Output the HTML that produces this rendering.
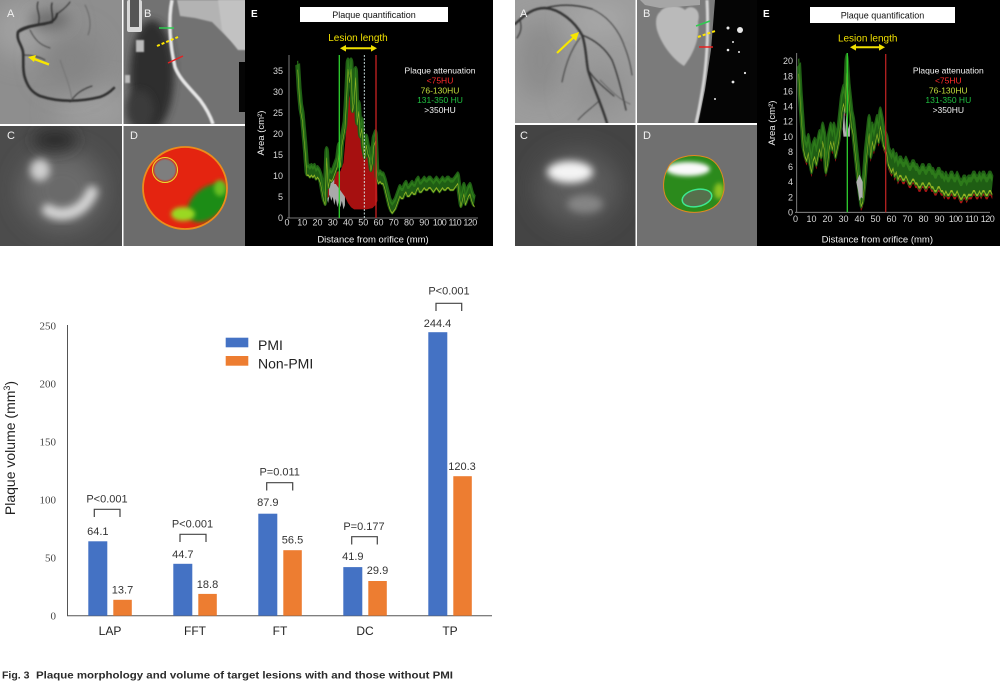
<!DOCTYPE html>
<html>
<head>
<meta charset="utf-8">
<style>
html,body{margin:0;padding:0;background:#fff;}
svg{display:block;}
text{font-family:"Liberation Sans",sans-serif;}
</style>
</head>
<body>
<svg width="1000" height="686" viewBox="0 0 1000 686" xmlns="http://www.w3.org/2000/svg">
<defs>
  <filter id="b1" x="-50%" y="-50%" width="200%" height="200%"><feGaussianBlur stdDeviation="0.8"/></filter>
  <filter id="b2" x="-50%" y="-50%" width="200%" height="200%"><feGaussianBlur stdDeviation="2"/></filter>
  <filter id="b4" x="-50%" y="-50%" width="200%" height="200%"><feGaussianBlur stdDeviation="4"/></filter>
  <filter id="b7" x="-50%" y="-50%" width="200%" height="200%"><feGaussianBlur stdDeviation="7"/></filter>
  <filter id="b12" x="-50%" y="-50%" width="200%" height="200%"><feGaussianBlur stdDeviation="12"/></filter>
  <clipPath id="cLA"><rect x="0" y="0" width="122" height="124"/></clipPath>
  <clipPath id="cLB"><rect x="123.5" y="0" width="121.5" height="124"/></clipPath>
  <clipPath id="cLC"><rect x="0" y="126" width="122" height="120"/></clipPath>
  <clipPath id="cLD"><rect x="123.5" y="126" width="121.5" height="120"/></clipPath>
  <clipPath id="cLDc"><ellipse cx="185" cy="188" rx="42" ry="41"/></clipPath>
  <clipPath id="cRA"><rect x="515" y="0" width="120.5" height="123"/></clipPath>
  <clipPath id="cRB"><rect x="637" y="0" width="120" height="123"/></clipPath>
  <clipPath id="cRC"><rect x="515" y="125" width="120.5" height="121"/></clipPath>
  <clipPath id="cRD"><rect x="637" y="125" width="120" height="121"/></clipPath>
  <clipPath id="cRDs"><path d="M668,168 C672,158 690,153 705,157 C718,160 725,175 724,190 C722,202 715,210 700,212 C685,214 670,208 665,195 C662,185 664,175 668,168 Z"/></clipPath>
  <clipPath id="cEL"><rect x="245" y="0" width="248" height="246"/></clipPath>
  <clipPath id="cER"><rect x="757" y="0" width="243" height="246"/></clipPath>
  <polyline id="envL" points="7,38 8,32 9,28 10,26 11,22 12,18 13,13 14,13 15,12.5 16,13 17,12.5 18,13 19,12 20,12.5 21,12 22,11 23,9 24,7 25,6 26,17 27,10 28,12 29,11.5 30,12 31,13 32,14 33,15 34,18 35,15 36,20 37,22 38,24 39,30 40,38 41,35 42,38 43,28 44,30 45,36 46,25 47,28 48,22 49,24 50,19 51,17 52,20 53,18 54,17 55,14 56,16 57,20 58,21 59,12 60,11 61,11.5 62,11 63,11 64,10 65,8.5 66,7 67,5.5 68,4.5 69,4 70,4.5 71,5 72,6 73,7 74,8 75,7.5 76,7.5 77,8.5 78,9 79,8 80,8 81,8.5 82,9 83,8.5 84,8.5 85,9.5 86,10 87,9 88,9 89,9.5 90,10 91,9.5 92,9.5 93,10 94,10 95,9.5 96,9 97,9.5 98,10 99,9.5 100,9 101,9.5 102,10 103,9.5 104,9.5 105,10 106,10 107,9.5 108,9.5 109,9.5 110,10 111,10.5 112,11 113,8 114,5.5 115,7 116,8.5 117,6 118,7 119,8 120,8.5 121,7 122,6 123,5.5"/>
  <polyline id="envR" points="2,21 3,17 4,14 5,11 6,10 7,9.5 8,10.5 9,9 10,8 11,9.5 12,10 13,9 14,10 15,11 16,10 17,12 18,11 19,8 20,9 21,11 22,12 23,11 24,12 25,10 26,11 27,12 28,14 29,16 30,17 31,16 32,21 33,18 34,16 35,14 36,13 37,11 38,9 39,7 40,5 41,3.5 42,4 43,6 44,9 45,11 46,13 47,10 48,12 49,11 50,12 51,13 52,12 53,14 54,13 55,11.5 56,11 57,10.5 58,9 59,8.5 60,8 61,8.5 62,7.5 63,8 64,7 65,7.5 66,7.5 67,7 68,7 69,7.5 70,7 71,6.5 72,6.5 73,7 74,7 75,6.5 76,6.5 77,6 78,6 79,6.5 80,6.5 81,6 82,6 83,6.5 84,6.5 85,6 86,6 87,5.5 88,5.5 89,6 90,6 91,5.5 92,5.5 93,5 94,5.5 95,5 96,5 97,5.5 98,5.5 99,5 100,5 101,5.5 102,5 103,4.5 104,4.5 105,5 106,5 107,4.5 108,5 109,5 110,5 111,5.5 112,5.5 113,5 114,5 115,5.5 116,5 117,5.5 118,5.5 119,5 120,5 121,5.5 122,5.5 123,5"/>
</defs>

<!-- ================= LEFT PANEL ================= -->
<!-- A -->
<g clip-path="url(#cLA)">
  <rect x="0" y="0" width="122" height="124" fill="#8e8e8e"/>
  <ellipse cx="30" cy="30" rx="40" ry="30" fill="#a0a0a0" filter="url(#b12)"/>
  <ellipse cx="95" cy="110" rx="40" ry="25" fill="#9c9c9c" filter="url(#b12)"/>
  <ellipse cx="70" cy="60" rx="30" ry="30" fill="#858585" filter="url(#b12)"/>
  <ellipse cx="50" cy="20" rx="20" ry="10" fill="#6a6a6a" filter="url(#b7)"/>
  <g fill="none" stroke="#2e2e2e" stroke-linecap="round" filter="url(#b1)">
    <path d="M52,22 C40,25 22,26 18,32 C16,40 22,45 23,52 C24,60 22,70 25,78 C28,88 33,93 40,96 C55,101 75,103 100,97 C106,95 110,92 114,88" stroke-width="2.6"/>
    <path d="M18,32 C25,28 35,25 45,24 C52,22 56,20 57,14" stroke-width="2.2"/>
    <path d="M52,22 C54,15 50,10 52,3" stroke-width="1.3"/>
    <path d="M38,25 C42,15 35,10 38,2" stroke-width="1.1"/>
    <path d="M57,14 C62,10 66,8 70,2" stroke-width="1.1"/>
    <path d="M23,55 C30,55 38,56 45,60" stroke-width="1"/>
    <path d="M70,102 C75,95 80,90 92,86" stroke-width="1"/>
    <path d="M30,30 C35,40 40,45 50,48" stroke-width="0.8"/>
    <path d="M85,5 C90,15 92,25 88,35" stroke-width="0.8" stroke="#5a5a5a"/>
    <path d="M60,60 C65,75 70,85 72,100" stroke-width="0.6" stroke="#666"/>
  </g>
  <line x1="49" y1="64.5" x2="33" y2="58.5" stroke="#f7e600" stroke-width="2.5"/>
  <polygon points="28,57 36,55 34,62" fill="#f7e600"/>
  <text x="7" y="17" font-size="11" fill="#f2f2f2">A</text>
</g>
<!-- B -->
<g clip-path="url(#cLB)">
  <rect x="123" y="0" width="122" height="124" fill="#727272"/>
  <path d="M177,0 L250,0 L250,50 L240,48 L228,38 L212,22 L195,18 L180,16 Z" fill="#b3b3b3" filter="url(#b1)"/>
  <path d="M218,0 L250,0 L250,50 L238,50 L222,30 Z" fill="#c2c2c2" filter="url(#b1)"/>
  <ellipse cx="152" cy="75" rx="22" ry="55" fill="#2f2f2f" filter="url(#b4)"/>
  <ellipse cx="140" cy="110" rx="14" ry="20" fill="#3a3a3a" filter="url(#b4)"/>
  <rect x="127" y="0" width="15" height="32" rx="2" fill="#d8d8d8"/>
  <rect x="130" y="0" width="9" height="27" fill="#555"/>
  <rect x="136" y="40" width="8" height="12" fill="#bbb" filter="url(#b1)"/>
  <rect x="125" y="75" width="5" height="8" fill="#bbb" filter="url(#b1)"/>
  <path d="M172,0 C168,20 170,45 175,67 C180,80 190,88 200,100 C206,108 210,115 213,124" fill="none" stroke="#e6e6e6" stroke-width="3.5" filter="url(#b1)"/>
  <rect x="239" y="62" width="6" height="50" fill="#050505"/>
  <line x1="159" y1="28" x2="174" y2="28" stroke="#2ecc50" stroke-width="1.5"/>
  <line x1="157" y1="46" x2="178" y2="37" stroke="#ffe600" stroke-width="2" stroke-dasharray="3 2"/>
  <line x1="168" y1="63" x2="183" y2="56" stroke="#e82020" stroke-width="1.5"/>
  <text x="144" y="17" font-size="11" fill="#f2f2f2">B</text>
</g>
<!-- C -->
<g clip-path="url(#cLC)">
  <rect x="0" y="126" width="122" height="120" fill="#4c4c4c"/>
  <ellipse cx="62" cy="190" rx="42" ry="40" fill="#6a6a6a" filter="url(#b12)"/>
  <ellipse cx="55" cy="140" rx="22" ry="12" fill="#2e2e2e" filter="url(#b7)"/>
  <ellipse cx="40" cy="170" rx="10" ry="11" fill="#cfcfcf" filter="url(#b4)"/>
  <path d="M48,210 C60,218 82,215 92,192" fill="none" stroke="#d6d6d6" stroke-width="12" stroke-linecap="round" filter="url(#b4)"/>
  <text x="7" y="139" font-size="11" fill="#f2f2f2">C</text>
</g>
<!-- D -->
<g clip-path="url(#cLD)">
  <rect x="123" y="126" width="122" height="120" fill="#6c6c6c"/>
  <ellipse cx="185" cy="188" rx="42" ry="41" fill="#e42410"/>
  <g clip-path="url(#cLDc)">
    <ellipse cx="208" cy="203" rx="24" ry="15" transform="rotate(-40 208 203)" fill="#1a8c18" filter="url(#b2)"/>
    <ellipse cx="183" cy="214" rx="12" ry="7" fill="#9ad822" filter="url(#b2)"/>
    <ellipse cx="220" cy="188" rx="6" ry="8" fill="#6ac020" filter="url(#b2)"/>
  </g>
  <circle cx="165" cy="170" r="11" fill="#7e7e7e" filter="url(#b1)"/>
  <circle cx="165" cy="170" r="12.5" fill="none" stroke="#e8e030" stroke-width="1"/>
  <ellipse cx="185" cy="188" rx="42" ry="41" fill="none" stroke="#ec8c1c" stroke-width="1.8"/>
  <text x="130" y="139" font-size="11" fill="#f2f2f2">D</text>
</g>
<!-- E left -->
<rect x="245" y="0" width="248" height="246" fill="#000"/>
<g clip-path="url(#cEL)">
  <text x="251" y="17" font-size="10" font-weight="bold" fill="#fff">E</text>
  <rect x="300" y="7" width="148" height="15" fill="#fff"/>
  <text x="374" y="18" font-size="9" fill="#111" text-anchor="middle">Plaque quantification</text>
  <text x="358" y="41" font-size="10" fill="#f0e000" text-anchor="middle">Lesion length</text>
  <line x1="344" y1="48.3" x2="373" y2="48.3" stroke="#f0e000" stroke-width="2"/>
  <polygon points="340,48.3 346,45 346,51.6" fill="#f0e000"/>
  <polygon points="377,48.3 371,45 371,51.6" fill="#f0e000"/>

  <!-- data -->
  <g transform="translate(287,217.8) scale(1.525,-4.22)">
    <polygon fill="#a9a9a9" points="24,5 25,7 26,8 27,9 28,10 30,10 32,10 34,10 36,9 38,8 38,3 37,2 36,4 35,2.5 34,4 33,2.5 32,4.5 31,3 30,5 29,4 28,5.5 27,3.5 26,5 25,4.5"/>
    <polygon fill="#a61010" points="24.5,6 25.5,10 26.5,11 27.5,9 27.5,5 26,4.5"/>
    <polygon fill="#a61010" points="31,10 33,11 35,11 36,12 37,13 38,17 39,22 40,27 41,29 42,31 43,27 44,26 45,28 46,22 47,21 48,19 49,17 50,15 51,13.5 52,15 53,14 54,14 55,11 56,13 57,15 58,16 59,10 59.3,4 58,3 56,2.3 52,2 48,2 44,2 42,2.5 40,3.5 38,5 36,6 34,7 32,8 31,8"/>
    <use href="#envL" fill="none" stroke="#1f5e14" stroke-width="3.2" stroke-linejoin="round" transform="translate(0,-1.6)"/>
    <use href="#envL" fill="none" stroke="#2d7a1a" stroke-width="0.7" stroke-linejoin="round" transform="translate(0,-0.8)"/>
    <use href="#envL" fill="none" stroke="#92b424" stroke-width="0.35" stroke-linejoin="round" transform="translate(0,-2.9)"/>
  </g>

  <!-- axes -->
  <line x1="289" y1="55" x2="289" y2="218" stroke="#9a9a9a" stroke-width="0.8"/>
  <line x1="287" y1="218" x2="478" y2="218" stroke="#9a9a9a" stroke-width="0.8"/>
  <line x1="339.3" y1="55" x2="339.3" y2="218" stroke="#2ed02e" stroke-width="1.3"/>
  <line x1="364.3" y1="55" x2="364.3" y2="218" stroke="#d8f0f0" stroke-width="0.9" stroke-dasharray="2 1.5"/>
  <line x1="376" y1="55" x2="376" y2="218" stroke="#c82222" stroke-width="1.3"/>

  <g font-size="9" fill="#d8d8d8" text-anchor="end">
    <text x="283" y="221">0</text>
    <text x="283" y="200">5</text>
    <text x="283" y="179">10</text>
    <text x="283" y="158">15</text>
    <text x="283" y="137">20</text>
    <text x="283" y="116">25</text>
    <text x="283" y="95">30</text>
    <text x="283" y="74">35</text>
  </g>
  <g font-size="9" fill="#d8d8d8" text-anchor="middle">
    <text x="287" y="225.5">0</text>
    <text x="302.3" y="225.5">10</text>
    <text x="317.5" y="225.5">20</text>
    <text x="332.8" y="225.5">30</text>
    <text x="348" y="225.5">40</text>
    <text x="363.3" y="225.5">50</text>
    <text x="378.5" y="225.5">60</text>
    <text x="393.8" y="225.5">70</text>
    <text x="409" y="225.5">80</text>
    <text x="424.3" y="225.5">90</text>
    <text x="439.5" y="225.5" letter-spacing="-0.6">100</text>
    <text x="454.8" y="225.5" letter-spacing="-0.6">110</text>
    <text x="470" y="225.5" letter-spacing="-0.6">120</text>
  </g>
  <text x="373" y="242.5" font-size="9.5" fill="#f0f0f0" text-anchor="middle">Distance from orifice (mm)</text>
  <text transform="translate(264,133) rotate(-90)" font-size="9.5" fill="#f0f0f0" text-anchor="middle">Area (cm²)</text>
  <g font-size="8.5" text-anchor="middle">
    <text x="440" y="73.5" fill="#f4f4f4">Plaque attenuation</text>
    <text x="440" y="83.5" fill="#ff2a2a">&lt;75HU</text>
    <text x="440" y="93.5" fill="#c4de3c">76-130HU</text>
    <text x="440" y="103" fill="#1fc040">131-350 HU</text>
    <text x="440" y="113" fill="#f4f4f4">&gt;350HU</text>
  </g>
</g>

<!-- ================= RIGHT PANEL ================= -->
<!-- A -->
<g clip-path="url(#cRA)">
  <rect x="515" y="0" width="121" height="123" fill="#9c9c9c"/>
  <ellipse cx="540" cy="60" rx="25" ry="40" fill="#8c8c8c" filter="url(#b12)"/>
  <ellipse cx="600" cy="90" rx="30" ry="25" fill="#929292" filter="url(#b12)"/>
  <ellipse cx="600" cy="20" rx="30" ry="15" fill="#a8a8a8" filter="url(#b12)"/>
  <g fill="none" stroke="#343434" stroke-linecap="round" filter="url(#b1)">
    <path d="M515,24 C525,15 532,8 545,8 C560,9 575,22 582,35 C586,45 586,60 588,70 C592,85 600,100 607,123" stroke-width="2.4"/>
    <path d="M545,8 C560,4 575,4 592,9" stroke-width="1.3"/>
    <path d="M582,35 C595,40 605,48 612,60 C618,75 622,92 626,110" stroke-width="1.3"/>
    <path d="M588,70 C595,80 602,86 614,96" stroke-width="1.1"/>
    <path d="M580,38 C572,48 566,62 562,82" stroke-width="0.9"/>
    <path d="M592,9 C605,15 615,25 622,40 C626,50 630,60 632,75" stroke-width="0.9"/>
    <path d="M520,20 C522,28 521,32 517,38" stroke-width="1.1"/>
    <path d="M600,100 C592,108 585,112 578,120" stroke-width="0.8"/>
    <path d="M600,80 C610,90 620,100 630,104" stroke-width="0.7" stroke="#555"/>
  </g>
  <line x1="557" y1="53" x2="574" y2="37" stroke="#f7e600" stroke-width="2.2"/>
  <polygon points="579,32 570,35 576,41" fill="#f7e600"/>
  <text x="520" y="17" font-size="11" fill="#f2f2f2">A</text>
</g>
<!-- B -->
<g clip-path="url(#cRB)">
  <rect x="637" y="0" width="120" height="123" fill="#7b7b7b"/>
  <path d="M660,12 C665,4 680,5 685,10 C690,4 702,8 698,22 C700,36 695,52 684,66 C674,60 662,46 657,30 C655,22 656,15 660,12 Z" fill="#bababa" filter="url(#b1)"/>
  <path d="M640,0 L700,0 L700,5 L660,8 L645,5 Z" fill="#a6a6a6"/>
  <polygon points="715,0 757,0 757,123 698,123 705,90 711,50" fill="#050505"/>
  <g fill="#e8e8e8">
    <circle cx="728" cy="28" r="1.5"/><circle cx="740" cy="30" r="3"/><circle cx="733" cy="42" r="1"/>
    <circle cx="728" cy="50" r="1.3"/><circle cx="739" cy="52" r="1"/><circle cx="745" cy="73" r="1.1"/>
    <circle cx="733" cy="82" r="1.4"/><circle cx="715" cy="99" r="1"/>
  </g>
  <path d="M707,0 C708,20 708,50 704,80 C701,100 698,115 696,123" fill="none" stroke="#d6d6d6" stroke-width="3" filter="url(#b1)"/>
  <line x1="696" y1="26" x2="710" y2="21" stroke="#2ecc50" stroke-width="1.5"/>
  <line x1="698" y1="37" x2="715" y2="31" stroke="#ffe600" stroke-width="2" stroke-dasharray="3 2"/>
  <line x1="699" y1="47" x2="713" y2="47" stroke="#e82020" stroke-width="1.5"/>
  <text x="643" y="17" font-size="11" fill="#f2f2f2">B</text>
</g>
<!-- C -->
<g clip-path="url(#cRC)">
  <rect x="515" y="125" width="121" height="121" fill="#444"/>
  <ellipse cx="578" cy="188" rx="42" ry="38" fill="#5c5c5c" filter="url(#b12)"/>
  <ellipse cx="585" cy="204" rx="18" ry="9" fill="#858585" filter="url(#b4)"/>
  <ellipse cx="570" cy="172" rx="23" ry="11" fill="#f4f4f4" filter="url(#b4)"/>
  <text x="520" y="139" font-size="11" fill="#f2f2f2">C</text>
</g>
<!-- D -->
<g clip-path="url(#cRD)">
  <rect x="637" y="125" width="120" height="121" fill="#707070"/>
  <path d="M668,168 C672,158 690,153 705,157 C718,160 725,175 724,190 C722,202 715,210 700,212 C685,214 670,208 665,195 C662,185 664,175 668,168 Z" fill="#2b8a1c"/>
  <g clip-path="url(#cRDs)">
    <ellipse cx="688" cy="169" rx="22" ry="7" fill="#fafafa" filter="url(#b2)"/>
    <ellipse cx="719" cy="191" rx="5" ry="8" fill="#8cc220" filter="url(#b2)"/>
  </g>
  <path d="M668,168 C672,158 690,153 705,157 C718,160 725,175 724,190 C722,202 715,210 700,212 C685,214 670,208 665,195 C662,185 664,175 668,168 Z" fill="none" stroke="#e08a20" stroke-width="1"/>
  <ellipse cx="697" cy="198" rx="15" ry="8.5" transform="rotate(-12 697 198)" fill="#56704c" stroke="#3ee890" stroke-width="1.5"/>
  <text x="643" y="139" font-size="11" fill="#f2f2f2">D</text>
</g>
<!-- E right -->
<rect x="757" y="0" width="243" height="246" fill="#000"/>
<g clip-path="url(#cER)">
  <text x="763" y="17" font-size="10" font-weight="bold" fill="#fff">E</text>
  <rect x="810" y="7" width="145" height="16" fill="#fff"/>
  <text x="882.5" y="18.5" font-size="9" fill="#111" text-anchor="middle">Plaque quantification</text>
  <text x="867.7" y="41.5" font-size="10" fill="#f0e000" text-anchor="middle">Lesion length</text>
  <line x1="854" y1="47.3" x2="881" y2="47.3" stroke="#f0e000" stroke-width="2"/>
  <polygon points="850,47.3 856,44 856,50.6" fill="#f0e000"/>
  <polygon points="885,47.3 879,44 879,50.6" fill="#f0e000"/>

  <g transform="translate(795.5,212.3) scale(1.6,-7.57)">
    <use href="#envR" fill="none" stroke="#a81414" stroke-width="0.4" stroke-linejoin="round" transform="translate(0,-3.1)"/>
    <use href="#envR" fill="none" stroke="#1f5e14" stroke-width="3" stroke-linejoin="round" transform="translate(0,-1.5)"/>
    <use href="#envR" fill="none" stroke="#2d7a1a" stroke-width="0.7" stroke-linejoin="round" transform="translate(0,-0.7)"/>
    <use href="#envR" fill="none" stroke="#92b424" stroke-width="0.3" stroke-linejoin="round" transform="translate(0,-2.7)"/>
    <polygon fill="#b0b0b0" points="29.5,11 30.5,14 31,10.5 32,13.5 33,11 34,12 34,10 30,10"/>
    <polygon fill="#b0b0b0" points="38,4 39,3 40,1.5 41,2 42,1.8 42,4 40,5"/>
  </g>

  <line x1="796.7" y1="53" x2="796.7" y2="212.3" stroke="#9a9a9a" stroke-width="0.8"/>
  <line x1="795" y1="212.3" x2="990" y2="212.3" stroke="#9a9a9a" stroke-width="0.8"/>
  <line x1="847.3" y1="53" x2="847.3" y2="212.3" stroke="#2ed02e" stroke-width="1.3"/>
  <line x1="885.7" y1="54" x2="885.7" y2="212.3" stroke="#b82222" stroke-width="1.3"/>

  <g font-size="9" fill="#d8d8d8" text-anchor="end">
    <text x="793" y="215.5">0</text>
    <text x="793" y="200.4">2</text>
    <text x="793" y="185.2">4</text>
    <text x="793" y="170.1">6</text>
    <text x="793" y="155">8</text>
    <text x="793" y="139.9">10</text>
    <text x="793" y="124.7">12</text>
    <text x="793" y="109.6">14</text>
    <text x="793" y="94.5">16</text>
    <text x="793" y="79.3">18</text>
    <text x="793" y="64.2">20</text>
  </g>
  <g font-size="9" fill="#d8d8d8" text-anchor="middle">
    <text x="795.5" y="221.8">0</text>
    <text x="811.5" y="221.8">10</text>
    <text x="827.5" y="221.8">20</text>
    <text x="843.5" y="221.8">30</text>
    <text x="859.5" y="221.8">40</text>
    <text x="875.5" y="221.8">50</text>
    <text x="891.5" y="221.8">60</text>
    <text x="907.5" y="221.8">70</text>
    <text x="923.5" y="221.8">80</text>
    <text x="939.5" y="221.8">90</text>
    <text x="955.5" y="221.8" letter-spacing="-0.5">100</text>
    <text x="971.5" y="221.8" letter-spacing="-0.5">110</text>
    <text x="987.5" y="221.8" letter-spacing="-0.5">120</text>
  </g>
  <text x="877.3" y="242.5" font-size="9.5" fill="#f0f0f0" text-anchor="middle">Distance from orifice (mm)</text>
  <text transform="translate(775,123) rotate(-90)" font-size="9.5" fill="#f0f0f0" text-anchor="middle">Area (cm²)</text>
  <g font-size="8.5" text-anchor="middle">
    <text x="948.3" y="73.5" fill="#f4f4f4">Plaque attenuation</text>
    <text x="948.3" y="83.5" fill="#ff2a2a">&lt;75HU</text>
    <text x="948.3" y="93.5" fill="#c4de3c">76-130HU</text>
    <text x="948.3" y="103" fill="#1fc040">131-350 HU</text>
    <text x="948.3" y="113" fill="#f4f4f4">&gt;350HU</text>
  </g>
</g>

<!-- ================= BAR CHART ================= -->
<g>
  <line x1="67.5" y1="325" x2="67.5" y2="616" stroke="#555" stroke-width="1"/>
  <line x1="67" y1="615.7" x2="492" y2="615.7" stroke="#555" stroke-width="1"/>
  <g font-size="11" fill="#444" text-anchor="end">
    <text x="56" y="619.5" style="font-family:'Liberation Serif',serif">0</text>
    <text x="56" y="561.5" style="font-family:'Liberation Serif',serif">50</text>
    <text x="56" y="503.5" style="font-family:'Liberation Serif',serif">100</text>
    <text x="56" y="445.5" style="font-family:'Liberation Serif',serif">150</text>
    <text x="56" y="387.5" style="font-family:'Liberation Serif',serif">200</text>
    <text x="56" y="329.5" style="font-family:'Liberation Serif',serif">250</text>
  </g>
  <text transform="translate(15,448) rotate(-90)" font-size="14" fill="#222" text-anchor="middle">Plaque volume (mm<tspan font-size="9" dy="-5">3</tspan><tspan dy="5">)</tspan></text>

  <!-- legend -->
  <rect x="225.7" y="337.7" width="22.6" height="9.6" fill="#4472c4"/>
  <text x="258" y="350" font-size="14" fill="#222">PMI</text>
  <rect x="225.7" y="356" width="22.6" height="9.7" fill="#ed7d31"/>
  <text x="258" y="368.5" font-size="14" fill="#222">Non-PMI</text>

  <!-- bars -->
  <g fill="#4472c4">
    <rect x="88.3" y="541.3" width="19" height="74.4"/>
    <rect x="173.3" y="563.8" width="19" height="51.9"/>
    <rect x="258.3" y="513.7" width="19" height="102"/>
    <rect x="343.3" y="567.1" width="19" height="48.6"/>
    <rect x="428.3" y="332.2" width="19" height="283.5"/>
  </g>
  <g fill="#ed7d31">
    <rect x="113.3" y="599.8" width="18.5" height="15.9"/>
    <rect x="198.3" y="593.9" width="18.5" height="21.8"/>
    <rect x="283.3" y="550.2" width="18.5" height="65.5"/>
    <rect x="368.3" y="581" width="18.5" height="34.7"/>
    <rect x="453.3" y="476.2" width="18.5" height="139.5"/>
  </g>

  <!-- value labels -->
  <g font-size="11" fill="#333" text-anchor="middle">
    <text x="97.8" y="535">64.1</text>
    <text x="122.5" y="593.5">13.7</text>
    <text x="182.8" y="558">44.7</text>
    <text x="207.5" y="588">18.8</text>
    <text x="267.8" y="506">87.9</text>
    <text x="292.5" y="543.5">56.5</text>
    <text x="352.8" y="560">41.9</text>
    <text x="377.5" y="574">29.9</text>
    <text x="437.5" y="327">244.4</text>
    <text x="462" y="470">120.3</text>
  </g>

  <!-- brackets -->
  <g fill="none" stroke="#444" stroke-width="1.2">
    <path d="M94.3,517 V509.3 H120 V517"/>
    <path d="M180,542 V534.3 H206 V542"/>
    <path d="M266.7,490.5 V482.7 H292.7 V490.5"/>
    <path d="M351.7,544.5 V536.7 H377.3 V544.5"/>
    <path d="M436,311 V303.3 H461.7 V311"/>
  </g>
  <g font-size="11" fill="#333" text-anchor="middle">
    <text x="107" y="502.3">P&lt;0.001</text>
    <text x="192.5" y="527.3">P&lt;0.001</text>
    <text x="279.7" y="475.7">P=0.011</text>
    <text x="364" y="530">P=0.177</text>
    <text x="449" y="294.7">P&lt;0.001</text>
  </g>

  <!-- categories -->
  <g font-size="12" fill="#222" text-anchor="middle">
    <text x="110" y="635">LAP</text>
    <text x="195" y="635">FFT</text>
    <text x="280" y="635">FT</text>
    <text x="365" y="635">DC</text>
    <text x="450" y="635">TP</text>
  </g>
</g>

<!-- caption -->
<text x="2" y="678.3" font-size="10.5" font-weight="bold" fill="#2a2a2a">Fig. 3</text>
<text x="36" y="678.3" font-size="10.5" font-weight="bold" fill="#2a2a2a" textLength="417" lengthAdjust="spacingAndGlyphs">Plaque morphology and volume of target lesions with and those without PMI</text>
</svg>
</body>
</html>
